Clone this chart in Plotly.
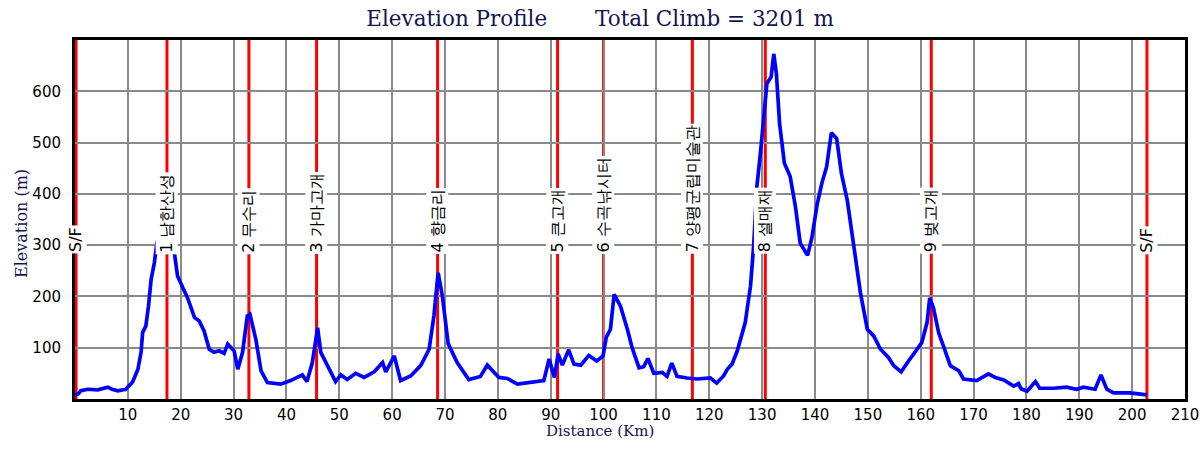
import plotly.graph_objects as go

# ---- data ----
dist_km = [0.0, 0.6, 1.1, 2.4, 4.3, 5.3, 6.2, 7.0, 8.1, 9.6, 10.9, 11.9, 12.5, 12.8, 13.4, 13.9,
           14.4, 15.0, 15.5, 16.1, 16.7, 17.4, 18.2, 18.8, 19.4, 20.4, 21.3, 22.6, 23.5, 24.4,
           25.4, 26.3, 27.3, 28.2, 28.9, 30.1, 30.8, 31.7, 32.6, 33.1, 34.2, 35.2, 36.4, 38.9,
           40.8, 43.0, 43.9, 44.9, 45.9, 46.5, 47.8, 49.3, 50.3, 51.5, 53.1, 54.7, 56.6, 58.2,
           58.8, 60.4, 61.6, 63.5, 65.4, 67.0, 67.9, 68.7, 69.5, 70.6, 72.3, 74.5, 76.7, 78.0,
           80.2, 81.8, 83.7, 85.6, 88.7, 89.7, 90.7, 91.4, 92.2, 93.4, 94.4, 95.7, 97.2, 98.7,
           99.9, 100.5, 101.3, 102.0, 103.2, 104.5, 105.4, 106.7, 107.6, 108.4, 109.5, 111.1,
           112.0, 112.9, 113.9, 115.8, 117.7, 120.2, 121.4, 122.7, 123.4, 124.3, 125.3, 126.8,
           127.8, 128.4, 129.0, 129.7, 130.3, 130.9, 131.7, 132.2, 132.7, 133.3, 134.2, 135.3,
           136.3, 137.2, 138.6, 139.4, 140.4, 141.3, 142.2, 143.1, 144.1, 145.0, 146.1, 147.4,
           148.6, 149.9, 151.1, 152.4, 153.9, 154.9, 156.3, 157.7, 159.0, 160.2, 161.2, 161.7,
           162.4, 163.4, 164.4, 165.6, 167.2, 168.1, 170.6, 172.8, 174.1, 175.7, 177.6, 178.5,
           179.0, 180.1, 181.7, 182.5, 185.1, 187.6, 189.5, 190.8, 193.0, 194.1, 195.2, 196.5,
           199.6, 202.8]
elev_m = [8, 10, 16, 19, 18, 20, 23, 19, 16, 19, 33, 58, 91, 130, 142, 181,
          233, 265, 305, 325, 335, 332, 300, 285, 240, 217, 197, 159, 152, 133,
          97, 91, 94, 89, 107, 94, 58, 91, 162, 165, 117, 55, 32, 29,
          36, 47, 34, 71, 139, 91, 65, 34, 47, 38, 50, 42, 53, 71,
          53, 84, 36, 45, 65, 97, 162, 246, 201, 108, 71, 38, 44, 66,
          42, 40, 29, 31, 36, 78, 42, 88, 66, 96, 68, 66, 85, 74,
          84, 120, 136, 204, 181, 136, 100, 61, 63, 79, 50, 52,
          44, 70, 44, 41, 39, 41, 31, 45, 58, 68, 94, 149,
          220, 300, 414, 482, 557, 615, 628, 673, 634, 537, 460, 434,
          375, 304, 280, 314, 379, 421, 453, 519, 508, 440, 388, 291,
          207, 136, 123, 97, 81, 65, 53, 74, 94, 110, 149, 197,
          178, 129, 100, 65, 55, 39, 36, 49, 42, 37, 25, 30,
          20, 15, 34, 21, 21, 23, 19, 23, 19, 47, 19, 12,
          12, 8]

marker_km = [0.2, 17.4, 32.9, 45.7, 68.6, 91.3, 100.0, 116.8, 130.6, 162.0, 202.8]
marker_labels = ["S/F", "1 남한산성", "2 무수리", "3 가마고개", "4 향금리", "5 큰고개",
                 "6 수곡낚시터", "7 양평군립미술관", "8 설매재", "9 벚고개", "S/F"]

x_ticks = [10, 20, 30, 40, 50, 60, 70, 80, 90, 100, 110, 120, 130, 140, 150, 160, 170,
           180, 190, 200, 210]
y_ticks = [100, 200, 300, 400, 500, 600]

title_text = "Elevation Profile\u00a0\u00a0\u00a0\u00a0\u00a0\u00a0\u00a0Total Climb = 3201 m"
x_title = "Distance (Km)"
y_title = "Elevation (m)"

NAVY = "#14144f"
SERIF = "DejaVu Serif"
SANS = "DejaVu Sans"

W, H = 1200, 450
ML, MR, MT, MB = 75, 15, 40, 51
PW, PH = W - ML - MR, H - MT - MB

fig = go.Figure()
fig.add_trace(go.Scatter(x=dist_km, y=elev_m, mode="lines",
                         line=dict(color="#0000ff", width=3.7), hoverinfo="x+y",
                         showlegend=False))

for km in marker_km:
    fig.add_shape(type="line", xref="x", yref="paper", x0=km, x1=km, y0=0, y1=1,
                  line=dict(color="#ff0000", width=3), layer="below")

for km, lab in zip(marker_km, marker_labels):
    fig.add_annotation(x=km, y=282, xref="x", yref="y", text=lab, textangle=-90,
                       showarrow=False, xanchor="center", yanchor="bottom",
                       font=dict(family=SANS, size=16, color="black"),
                       bgcolor="white", borderpad=1)

# axis titles centred on the page, as in the reference
fig.add_annotation(x=(W / 2 - ML) / PW, y=-(431 - (H - MB)) / PH, xref="paper", yref="paper",
                   text=x_title, showarrow=False, xanchor="center", yanchor="middle",
                   font=dict(family=SERIF, size=15, color=NAVY))
fig.add_annotation(x=(21 - ML) / PW, y=((H - MB) - 224) / PH, xref="paper", yref="paper",
                   text=y_title, textangle=-90, showarrow=False, xanchor="center",
                   yanchor="middle", font=dict(family=SERIF, size=16, color=NAVY))

fig.update_layout(
    width=W, height=H,
    margin=dict(l=ML, r=MR, t=MT, b=MB),
    paper_bgcolor="white", plot_bgcolor="white",
    title=dict(text=title_text, x=0.5, xanchor="center", y=1 - 18 / H,
               yanchor="middle", yref="container",
               font=dict(family=SERIF, size=21.5, color=NAVY)),
    xaxis=dict(range=[0, 210], tickvals=x_ticks, ticktext=[str(v) for v in x_ticks],
               showgrid=True, gridcolor="#8a8a8a", gridwidth=2, zeroline=False,
               showline=True, linecolor="black", linewidth=3, mirror=True,
               ticks="", automargin=False, ticklabeloverflow="allow",
               tickfont=dict(family=SANS, size=15, color="black")),
    yaxis=dict(range=[0, 700], tickvals=y_ticks, ticktext=[str(v) for v in y_ticks],
               showgrid=True, gridcolor="#8a8a8a", gridwidth=2, zeroline=False,
               showline=True, linecolor="black", linewidth=3, mirror=True,
               ticks="outside", ticklen=8, tickcolor="rgba(0,0,0,0)", automargin=False,
               tickfont=dict(family=SANS, size=15, color="black")),
)

# remove the browser's default 8px page margin so the figure fills the window exactly
fig.write_html("out.html", config={"displayModeBar": False},
               post_script="document.body.style.margin='0';document.body.style.overflow='hidden';")
